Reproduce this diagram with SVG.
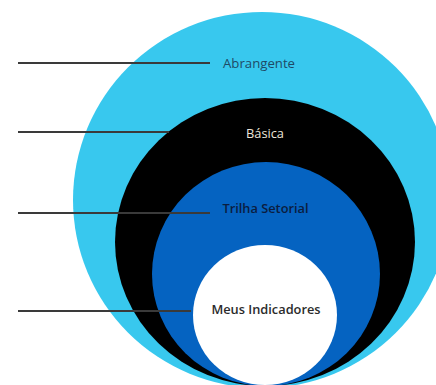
<svg xmlns="http://www.w3.org/2000/svg" width="436" height="385" viewBox="0 0 436 385">
<style>
.lbl{font-family:"Open Sans","Liberation Sans",sans-serif;font-size:12.8px}
.ln{stroke:#3a3a3a;stroke-width:2;fill:none}
</style>
<rect width="436" height="385" fill="#ffffff"/>
<g id="abrangente">
<ellipse cx="262" cy="200" rx="189" ry="188" fill="#38C8EE"/>
</g>
<g id="basica">
<ellipse cx="265" cy="242" rx="150" ry="144" fill="#000000"/>
</g>
<g id="trilha-setorial">
<ellipse cx="266" cy="274" rx="114" ry="112" fill="#0563C1"/>
</g>
<g id="meus-indicadores">
<ellipse cx="265" cy="315" rx="72" ry="70" fill="#ffffff"/>
</g>
<g id="connectors">
<line class="ln" x1="18" y1="63" x2="210" y2="63"/>
<line class="ln" x1="18" y1="132" x2="169" y2="132"/>
<line class="ln" x1="18" y1="213" x2="210" y2="213"/>
<line class="ln" x1="18" y1="311" x2="191" y2="311"/>
</g>
<g id="labels">
<text class="lbl" x="259" y="67.5" text-anchor="middle" fill="#1F4A66" textLength="72" lengthAdjust="spacingAndGlyphs">Abrangente</text>
<text class="lbl" x="265" y="137.5" text-anchor="middle" fill="#EDE6DA">Básica</text>
<text class="lbl" x="265.5" y="212.5" text-anchor="middle" fill="#0B1D3F" font-weight="600">Trilha Setorial</text>
<text class="lbl" x="266" y="313.5" text-anchor="middle" fill="#2b2b2b" font-weight="600">Meus Indicadores</text>
</g>
</svg>
